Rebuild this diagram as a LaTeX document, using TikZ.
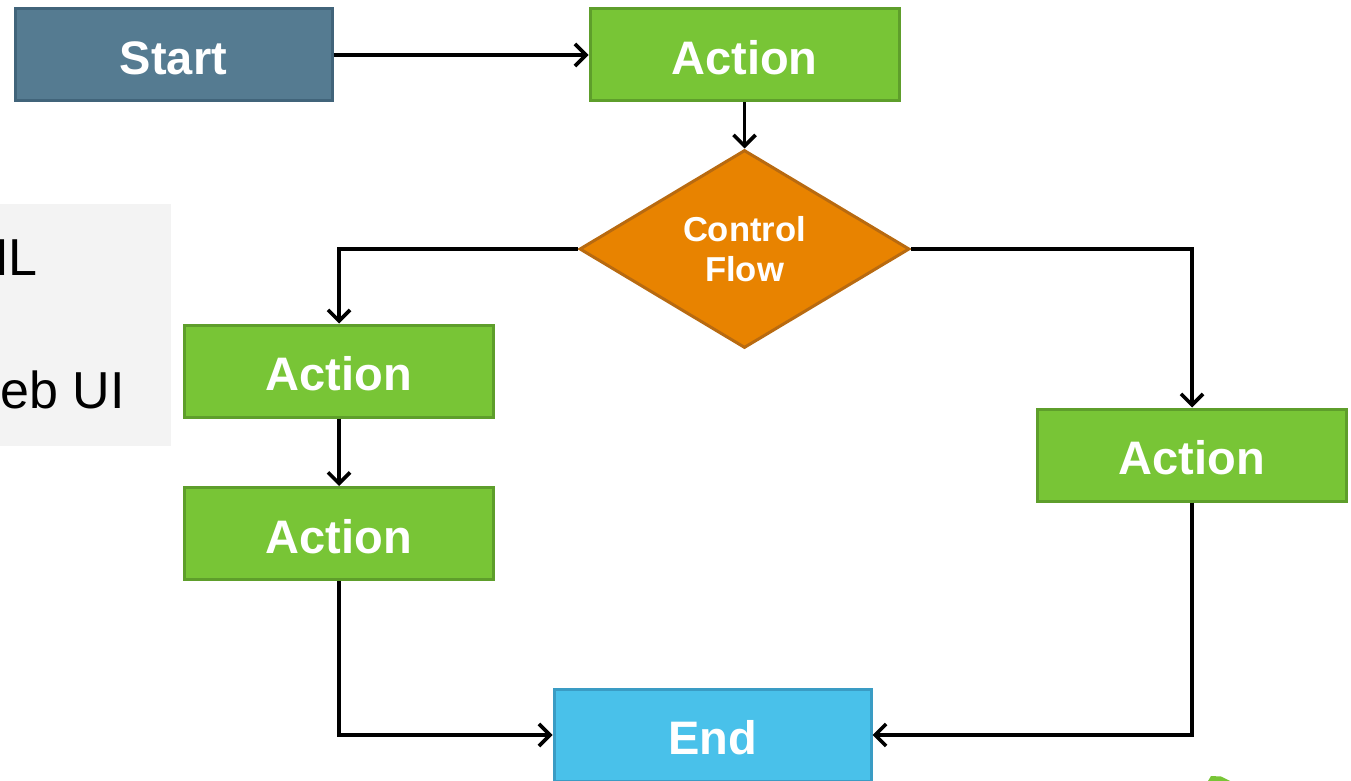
\documentclass[tikz,border=0pt]{standalone}
\usepackage{fontspec}
\setmainfont{Liberation Sans}
\usetikzlibrary{shapes.geometric,arrows.meta}

\definecolor{startfill}{HTML}{557B91}
\definecolor{startline}{HTML}{41647A}
\definecolor{actfill}{HTML}{78C536}
\definecolor{actline}{HTML}{5E9E2B}
\definecolor{flowfill}{HTML}{E88300}
\definecolor{flowline}{HTML}{B86A10}
\definecolor{endfill}{HTML}{49C1EA}
\definecolor{endline}{HTML}{3A9CC4}
\definecolor{panel}{HTML}{F3F3F3}

\tikzset{
  box/.style={rectangle, line width=1.5pt, inner sep=0pt,
    minimum width=154.5pt, minimum height=46pt,
    text height=19.5pt, text depth=0pt,
    text=white, font=\fontsize{23.5}{28}\selectfont\bfseries},
  startbox/.style={box, minimum width=158.5pt, fill=startfill, draw=startline},
  actbox/.style={box, fill=actfill, draw=actline},
  endbox/.style={box, minimum width=158.5pt, fill=endfill, draw=endline},
  decision/.style={diamond, line width=1.5pt, inner sep=0pt, aspect=1.667,
    minimum width=165pt, minimum height=99pt, fill=flowfill, draw=flowline,
    text=white, align=center, font=\fontsize{17.3}{20}\selectfont\bfseries},
  flow/.style={line width=1.7pt, black,
    -{Straight Barb[length=5.5pt,width=11pt,line width=1.8pt]}},
  paneltext/.style={anchor=base east, inner sep=0pt, text=black,
    font=\fontsize{26}{30}\selectfont}
}

\begin{document}
\begin{tikzpicture}[x=0.5pt, y=-0.5pt]
  \useasboundingbox (0,0) rectangle (1351,781);

  % side panel with its clipped text
  \fill[panel] (0,204) rectangle (171,446);
  \node[paneltext] (txtml) at (38,276) {ML};
  \node[paneltext] (txtui) at (125,408) {eb UI};

  % flowchart nodes
  \node[startbox] (start) at (173.5,55) {Start};
  \node[actbox]   (act0)  at (744.5,55) {Action};
  \node[decision] (ctrl)  at (744.5,249) {Control\\Flow};
  \node[actbox]   (actl1) at (339,371) {Action};
  \node[actbox]   (actl2) at (339,533.5) {Action};
  \node[actbox]   (actr)  at (1192,455) {Action};
  \node[endbox]   (stop)  at (712.5,735) {End};

  % connectors
  \draw[flow] (start.east) -- (act0.west);
  \draw[flow] (act0.south) -- (ctrl.north);
  \draw[flow] (ctrl.west) -| (actl1.north);
  \draw[flow] (actl1.south) -- (actl2.north);
  \draw[flow] (actl2.south) |- (stop.west);
  \draw[flow] (ctrl.east) -| (actr.north);
  \draw[flow] (actr.south) |- (stop.east);

  % small green mark in the lower right corner
  \fill[actfill] (1208,781) -- (1211,776) -- (1221,776.5) -- (1230,781) -- cycle;
\end{tikzpicture}
\end{document}
